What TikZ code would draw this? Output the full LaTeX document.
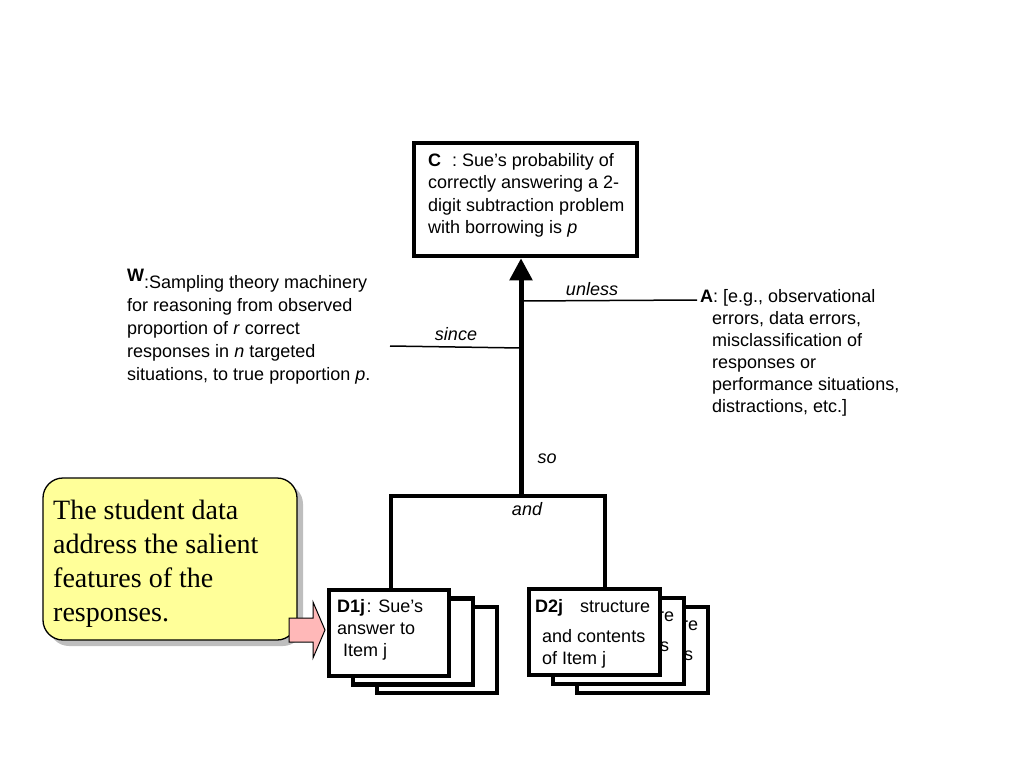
\documentclass[tikz,border=0pt]{standalone}
\usepackage{fontspec}
\setmainfont{Liberation Sans}
\newfontfamily\serifnote{Liberation Serif}
\usetikzlibrary{arrows.meta,shadows}
\definecolor{noteyellow}{HTML}{FFFF99}
\definecolor{shadowgray}{HTML}{BEBEBE}
\definecolor{arrowpink}{HTML}{FFB8B8}
\newcommand{\aposq}{\char39\relax}
\begin{document}
\begin{tikzpicture}[x=1pt,y=-1pt,
  txt/.style={anchor=north west, inner sep=0pt, align=left, font=\fontsize{18}{22.5}\selectfont},
  frag/.style={anchor=base west, inner sep=0pt, font=\fontsize{18}{22}\selectfont},
  lbl/.style={anchor=base, inner sep=0pt, font=\fontsize{18}{22}\selectfont\itshape},
  heavybox/.style={draw, line width=4.5pt, fill=white, inner sep=0pt},
  dbox/.style={heavybox, minimum width=120pt, minimum height=86pt},
  dtwobox/.style={heavybox, minimum width=131pt, minimum height=86pt},
  thinline/.style={line width=1.5pt},
  spine/.style={line width=5pt},
  barline/.style={line width=4pt}
]
\useasboundingbox (0,0) rectangle (1024,768);

% Claim box
\node[heavybox, minimum width=223pt, minimum height=113pt] (C) at (525.5,199.5) {};
\node[txt] (Ctext) at (428,150.25) {\strut\textbf{C}\hspace{11pt}: Sue\aposq s probability of\\correctly answering a 2-\\digit subtraction problem\\with borrowing is \textit{p}};

% Warrant
\node[txt, font=\fontsize{18}{23}\selectfont] (Wtext) at (127,271.9) {\strut\smash{\raisebox{7pt}{\textbf{W}}}:Sampling theory machinery\\for reasoning from observed\\proportion of \textit{r} correct\\responses in \textit{n} targeted\\situations, to true proportion \textit{p}.};

% Alternative
\node[txt, font=\fontsize{18}{22}\selectfont] (Atext) at (700,287.1) {\strut\textbf{A}: [e.g., observational\\\hspace*{12pt}errors, data errors,\\\hspace*{12pt}misclassification of\\\hspace*{12pt}responses or\\\hspace*{12pt}performance situations,\\\hspace*{12pt}distractions, etc.]};

% D1 stacked boxes
\node[dbox] (D1c) at (437,650) {};
\node[dbox] (D1b) at (413,641.5) {};
\node[dbox] (D1f) at (389,633) {};
\node[txt, font=\fontsize{18}{22}\selectfont] (D1text) at (337,596.6) {\strut\textbf{D1j}\hspace{1.5pt}: Sue\aposq s\\answer to\\\hspace*{6pt}Item j};

% D2 stacked boxes (only the ends of the back copies' text show)
\node[dtwobox] (D2c) at (642.5,650) {};
\node[frag] (D2cA) at (682,630) {re};
\node[frag] (D2cB) at (684,660) {s};
\node[dtwobox] (D2b) at (618.5,641) {};
\node[frag] (D2bA) at (658,621) {re};
\node[frag] (D2bB) at (660,651) {s};
\node[dtwobox] (D2f) at (594.5,632) {};
\node[frag] (D2fA) at (535,612) {\textbf{D2j}\hspace{17pt}structure};
\node[txt, font=\fontsize{18}{22}\selectfont] (D2fB) at (542,626.6) {\strut and contents\\of Item j};

% Connectors
\coordinate (kL) at (391,496);
\coordinate (kR) at (605,496);
\coordinate (barM) at (521,496);
\draw[barline] (kL |- D1f.north) -- (kL) -- (kR) -- (kR |- D2f.north);
\draw[spine, -{Triangle[length=22pt,width=22pt]}] (barM) -- (barM |- C.south);

\coordinate (uS) at (521,301);
\coordinate (uE) at (697,300);
\draw[thinline] (uS) -- (uE);
\coordinate (sL) at (390,346);
\coordinate (sR) at (521,348);
\draw[thinline] (sL) -- (sR);

% Labels
\node[lbl] (unless) at (592,295) {unless};
\node[lbl] (since) at (456,340) {since};
\node[lbl] (so) at (547,463) {so};
\node[lbl] (and) at (527,515) {and};

% Callout
\node[draw=black, line width=1.3pt, fill=noteyellow, rounded corners=20pt,
      minimum width=254pt, minimum height=162pt,
      drop shadow={shadow xshift=6pt, shadow yshift=-6pt, fill=shadowgray, opacity=1}] (note) at (170,559) {};
\node[anchor=north west, inner sep=0pt, align=left, font=\serifnote\fontsize{28}{34}\selectfont] (notetext) at (53,495.2) {\strut The student data\\address the salient\\features of the\\responses.};

% Pink block arrow
\draw[fill=arrowpink, line width=1pt, line join=miter] (289,618) -- (313,618) -- (313,602) -- (325,630) -- (313,658) -- (313,642) -- (289,642) -- cycle;
\end{tikzpicture}
\end{document}
